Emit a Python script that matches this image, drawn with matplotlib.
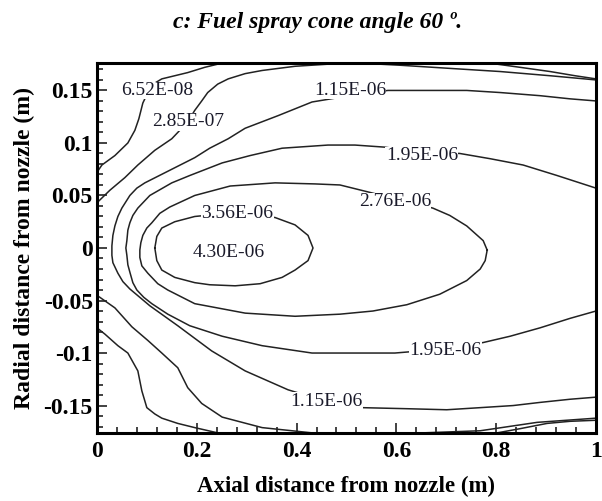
import matplotlib
matplotlib.use("Agg")
import matplotlib.pyplot as plt
from matplotlib.ticker import MultipleLocator, FuncFormatter

# contour lines (x in m, y in m)
c652_top_x = [0, 0.010, 0.036, 0.062, 0.076, 0.084, 0.092, 0.102, 0.116, 0.130, 0.182, 0.216, 0.242, 0.257]
c652_top_y = [0.072, 0.079, 0.088, 0.100, 0.112, 0.123, 0.138, 0.148, 0.157, 0.161, 0.167, 0.172, 0.175, 0.176]
c652_tr_x = [0.768, 0.802, 0.848, 0.908, 0.958, 1.0]
c652_tr_y = [0.176, 0.175, 0.172, 0.168, 0.164, 0.161]
c652_bot_x = [0, 0.016, 0.042, 0.062, 0.082, 0.090, 0.100, 0.116, 0.130, 0.162, 0.196, 0.242, 0.30]
c652_bot_y = [-0.076, -0.082, -0.093, -0.100, -0.117, -0.136, -0.152, -0.158, -0.162, -0.167, -0.171, -0.176, -0.176]
c652_br_x = [0.788, 0.802, 0.848, 0.902, 0.948, 1.0]
c652_br_y = [-0.176, -0.176, -0.172, -0.167, -0.165, -0.164]

c285_top_x = [0, 0.026, 0.056, 0.082, 0.116, 0.150, 0.166, 0.182, 0.196, 0.210, 0.222, 0.242, 0.263,
              0.297, 0.331, 0.397, 0.463, 0.497, 0.567, 0.607, 0.707, 0.808, 0.908, 1.0]
c285_top_y = [0.043, 0.055, 0.067, 0.079, 0.093, 0.104, 0.112, 0.120, 0.131, 0.140, 0.148, 0.156, 0.161,
              0.166, 0.169, 0.173, 0.175, 0.175, 0.175, 0.174, 0.171, 0.168, 0.164, 0.160]
c285_bot_x = [0, 0.036, 0.070, 0.102, 0.130, 0.162, 0.182, 0.210, 0.251, 0.331, 0.431, 0.467, 0.653,
              0.768, 0.882, 1.0]
c285_bot_y = [-0.045, -0.057, -0.075, -0.088, -0.100, -0.114, -0.133, -0.148, -0.161, -0.171, -0.176,
              -0.176, -0.176, -0.174, -0.166, -0.162]

c115_x = [1.0, 0.948, 0.888, 0.808, 0.741, 0.667, 0.607, 0.583, 0.507, 0.431, 0.363, 0.297, 0.263, 0.226,
          0.196, 0.146, 0.096, 0.080, 0.066, 0.050, 0.042, 0.036, 0.032, 0.030, 0.030, 0.032, 0.042, 0.052,
          0.066, 0.106, 0.162, 0.230, 0.297, 0.383, 0.459, 0.531, 0.621, 0.701, 0.768, 0.834, 0.888, 0.948, 1.0]
c115_y = [0.140, 0.142, 0.145, 0.148, 0.150, 0.150, 0.150, 0.150, 0.145, 0.139, 0.126, 0.114, 0.104, 0.095,
          0.086, 0.074, 0.062, 0.057, 0.050, 0.038, 0.030, 0.021, 0.012, 0.002, -0.007, -0.014, -0.024, -0.032,
          -0.039, -0.055, -0.074, -0.098, -0.117, -0.135, -0.146, -0.152, -0.153, -0.154, -0.152, -0.150,
          -0.147, -0.144, -0.142]

c195_x = [1.0, 0.922, 0.854, 0.788, 0.727, 0.651, 0.577, 0.517, 0.463, 0.371, 0.307, 0.251, 0.186, 0.150,
          0.106, 0.082, 0.072, 0.066, 0.062, 0.060, 0.058, 0.060, 0.062, 0.066, 0.072, 0.080, 0.094, 0.110,
          0.142, 0.186, 0.251, 0.331, 0.431, 0.517, 0.597, 0.699, 0.774, 0.828, 0.888, 0.948, 1.0]
c195_y = [0.057, 0.069, 0.079, 0.085, 0.090, 0.091, 0.096, 0.098, 0.098, 0.095, 0.088, 0.081, 0.069, 0.062,
          0.050, 0.038, 0.031, 0.024, 0.017, 0.007, 0.000, -0.007, -0.016, -0.023, -0.033, -0.040, -0.047,
          -0.053, -0.063, -0.074, -0.084, -0.093, -0.100, -0.100, -0.100, -0.096, -0.090, -0.084, -0.076,
          -0.067, -0.060]

c276_x = [0.782, 0.774, 0.741, 0.707, 0.673, 0.597, 0.521, 0.487, 0.437, 0.357, 0.267, 0.196, 0.146, 0.126,
          0.110, 0.100, 0.092, 0.088, 0.086, 0.086, 0.090, 0.102, 0.122, 0.142, 0.196, 0.297, 0.397, 0.487,
          0.553, 0.621, 0.687, 0.741, 0.768, 0.778, 0.782]
c276_y = [-0.002, 0.007, 0.021, 0.031, 0.038, 0.047, 0.056, 0.060, 0.061, 0.062, 0.059, 0.050, 0.039, 0.033,
          0.024, 0.019, 0.012, 0.005, -0.002, -0.009, -0.017, -0.024, -0.034, -0.040, -0.053, -0.062, -0.065,
          -0.063, -0.060, -0.054, -0.044, -0.031, -0.020, -0.012, -0.002]

c356_x = [0.116, 0.120, 0.130, 0.156, 0.196, 0.281, 0.357, 0.397, 0.423, 0.433, 0.423, 0.397, 0.371, 0.327,
          0.277, 0.226, 0.196, 0.156, 0.130, 0.120, 0.116]
c356_y = [0.000, 0.011, 0.019, 0.025, 0.030, 0.034, 0.029, 0.022, 0.012, 0.000, -0.012, -0.021, -0.028,
          -0.034, -0.036, -0.035, -0.033, -0.028, -0.021, -0.012, 0.000]

lines = [(c652_top_x, c652_top_y), (c652_tr_x, c652_tr_y), (c652_bot_x, c652_bot_y), (c652_br_x, c652_br_y),
         (c285_top_x, c285_top_y), (c285_bot_x, c285_bot_y), (c115_x, c115_y), (c195_x, c195_y),
         (c276_x, c276_y), (c356_x, c356_y)]

label_text = ["6.52E-08", "2.85E-07", "1.15E-06", "1.95E-06", "2.76E-06", "3.56E-06", "4.30E-06",
              "1.95E-06", "1.15E-06"]
label_x = [0.120, 0.182, 0.507, 0.651, 0.597, 0.281, 0.265, 0.699, 0.459]
label_y = [0.150, 0.120, 0.150, 0.088, 0.044, 0.033, -0.004, -0.098, -0.146]

serif = ["Liberation Serif", "DejaVu Serif"]

fig = plt.figure(figsize=(6.02, 5.01), dpi=100)
ax = fig.add_axes([0.161, 0.136, 0.829, 0.738])

for lx, ly in lines:
    ax.plot(lx, ly, color="#222222", lw=1.1)

for t, x, y in zip(label_text, label_x, label_y):
    ax.text(x, y, t, ha="center", va="center", fontsize=14, family=serif, color="#1a1a2a",
            bbox=dict(facecolor="white", edgecolor="none", pad=0.3))

ax.set_xlim(0, 1)
ax.set_ylim(-0.176, 0.176)
ax.xaxis.set_major_locator(MultipleLocator(0.2))
ax.xaxis.set_minor_locator(MultipleLocator(0.04))
ax.yaxis.set_major_locator(MultipleLocator(0.05))
ax.yaxis.set_minor_locator(MultipleLocator(0.01))
fmt = FuncFormatter(lambda v, p: "0" if abs(v) < 1e-9 else ("%g" % round(v, 3)))
ax.xaxis.set_major_formatter(fmt)
ax.yaxis.set_major_formatter(fmt)
ax.tick_params(which="both", direction="in", width=1.2, color="#222222")
ax.tick_params(which="major", length=7)
ax.tick_params(which="minor", length=4)
ax.tick_params(axis="x", pad=6)
ax.tick_params(axis="y", pad=3)
for lab in ax.get_xticklabels() + ax.get_yticklabels():
    lab.set_family(serif)
    lab.set_fontweight("bold")
    lab.set_fontsize(17)
for s in ax.spines.values():
    s.set_linewidth(2.2)

ax.set_xlabel("Axial distance from nozzle (m)", family=serif, fontweight="bold", fontsize=16.5, labelpad=10)
ax.set_ylabel("Radial distance from nozzle (m)", family=serif, fontweight="bold", fontsize=17, labelpad=6)

fig.text(0.528, 0.956, "c: Fuel spray cone angle 60 º.", ha="center", va="center", family=serif,
         fontweight="bold", style="italic", fontsize=17)

fig.savefig("out.png", dpi=100)
